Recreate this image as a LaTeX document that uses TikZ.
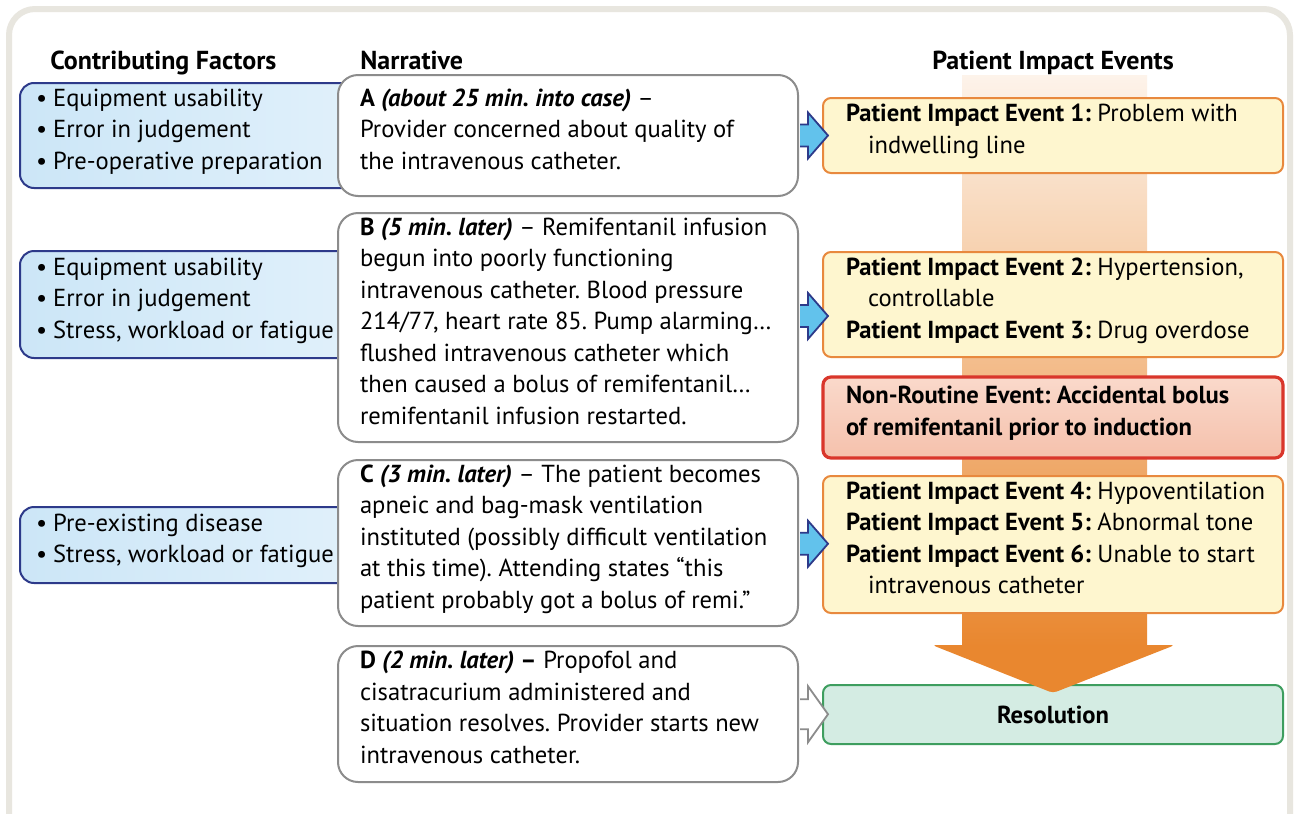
\documentclass[tikz,border=0pt]{standalone}
\usepackage{fontspec}
\setmainfont{PT Sans}
\usepackage{tikz}
\usetikzlibrary{calc, positioning}
\frenchspacing

\definecolor{frameGray}{HTML}{E8E6DF}
\definecolor{factorFill}{HTML}{CCE6F7}
\definecolor{factorLight}{HTML}{E2F1FB}
\definecolor{factorEdge}{HTML}{2D3A8A}
\definecolor{arrowBlue}{HTML}{62C2EC}
\definecolor{narrGray}{HTML}{8C8C8C}
\definecolor{impactFill}{HTML}{FEF6CF}
\definecolor{impactEdge}{HTML}{E8893E}
\definecolor{alertTop}{HTML}{FAD9CB}
\definecolor{alertBottom}{HTML}{F5C1AC}
\definecolor{alertEdge}{HTML}{D9362B}
\definecolor{resFill}{HTML}{D4ECE3}
\definecolor{resEdge}{HTML}{3E9E5F}
\definecolor{flowTop}{HTML}{FDF3EA}
\definecolor{flowBottom}{HTML}{E9872F}

\newcommand{\bodyfont}{\fontsize{12.3pt}{15.75pt}\selectfont}
\newcommand{\bul}{\textbullet\hspace{3pt}}

% fat block arrow between two boxes: style, from, to, shaft and head half height
\newcommand{\fatarrow}[5]{%
  \filldraw[#1] let \p1=(#2.east), \p2=(#3.west), \n1={(\y1+\y2)/2} in
    (\x1+0.5pt,\n1+#4) -- (\x2-7pt,\n1+#4) -- (\x2-7pt,\n1+#5) -- (\x2+3pt,\n1)
    -- (\x2-7pt,\n1-#5) -- (\x2-7pt,\n1-#4) -- (\x1+0.5pt,\n1-#4);
}

\begin{document}
\begin{tikzpicture}[x=0.5pt, y=-0.5pt, font=\bodyfont,
    box/.style={rectangle, align=left, inner ysep=0pt,
      execute at begin node={\hyphenpenalty=10000 \spaceskip=0pt \xspaceskip=0pt
        \rightskip=-15pt plus 1fil\rule{0pt}{11pt}},
      execute at end node={\rule[-9pt]{0pt}{0pt}}},
    factor/.style={box, draw=factorEdge, line width=1pt, rounded corners=7pt,
      left color=factorFill, right color=factorLight, text width=164pt, inner xsep=8pt},
    narr/.style={box, draw=narrGray, line width=1pt, rounded corners=10pt,
      fill=white, text width=208pt, inner xsep=11pt},
    impact/.style={box, draw=impactEdge, line width=1pt, rounded corners=4pt,
      fill=impactFill, text width=207pt, inner xsep=11.5pt},
    resbox/.style={rectangle, draw=resEdge, line width=1pt, rounded corners=4pt,
      fill=resFill, minimum width=230pt, font=\bodyfont\bfseries},
    heading/.style={font=\fontsize{13pt}{15.75pt}\selectfont\bfseries,
      inner sep=0pt, anchor=base west}]

  \useasboundingbox (0,0) rectangle (1296,814);
  \fill[white] (0,0) rectangle (1296,814);
  \draw[frameGray, line width=3pt, rounded corners=13pt] (9,9) rectangle (1290,870);

  % column headings
  \node[heading] (hdFactors) at (50,69) {Contributing Factors};
  \node[heading] (hdNarr) at (360,69) {Narrative};
  \node[heading, anchor=base] (hdImpact) at (1053,69) {Patient Impact Events};

  % contributing factors, partly hidden behind the narrative
  \node[factor, minimum height=52.5pt] (factA) at (200,135.5)
    {\bul Equipment usability\\\bul Error in judgement\\\bul Pre-operative preparation};
  \node[factor, minimum height=53.5pt] (factB) at (200,304.5)
    {\bul Equipment usability\\\bul Error in judgement\\\bul Stress, workload or fatigue};
  \node[factor, minimum height=38pt] (factC) at (200,545)
    {\bul Pre-existing disease\\\bul Stress, workload or fatigue};

  % narrative
  \node[narr, minimum height=60.5pt] (narA) at (568,135.5)
    {\textbf{A \textit{(about 25 min. into case)}} –\\
     Provider concerned about quality of\\the intravenous catheter.};
  \node[narr, minimum height=114.5pt] (narB) at (568,327.5)
    {\textbf{B \textit{(5 min. later)}} – Remifentanil infusion\\
     begun into poorly functioning\\
     intravenous catheter. Blood pressure\\
     214/77, heart rate 85. Pump alarming…\\
     flushed intravenous catheter which\\
     then caused a bolus of remifentanil…\\
     remifentanil infusion restarted.};
  \node[narr, minimum height=83pt] (narC) at (568,543)
    {\textbf{C \textit{(3 min. later)}} – The patient becomes\\
     apneic and bag-mask ventilation\\
     instituted (possibly difficult ventilation\\
     at this time). Attending states “this\\
     patient probably got a bolus of remi.”};
  \node[narr, minimum height=68pt] (narD) at (568,714)
    {\textbf{D \textit{(2 min. later)} –} Propofol and\\
     cisatracurium administered and\\
     situation resolves. Provider starts new\\
     intravenous catheter.};

  % big flow arrow behind the impact events
  \shade[top color=flowTop, bottom color=flowBottom] (962,75) rectangle (1147,646);

  % patient impact events
  \node[impact, minimum height=37.5pt] (impA) at (1053,135.5)
    {\textbf{Patient Impact Event 1:} Problem with\\\hspace*{11pt}indwelling line};
  \node[impact, minimum height=52.5pt] (impB) at (1053,304.5)
    {\textbf{Patient Impact Event 2:} Hypertension,\\\hspace*{11pt}controllable\\
     \textbf{Patient Impact Event 3:} Drug overdose};
  \node[impact, draw=alertEdge, line width=1.6pt, top color=alertTop,
    bottom color=alertBottom, font=\bodyfont\bfseries, minimum height=40.5pt]
    (nonroutine) at (1053,417.5)
    {Non-Routine Event: Accidental bolus\\of remifentanil prior to induction};
  \node[impact, minimum height=68.5pt] (impC) at (1053,544.5)
    {\textbf{Patient Impact Event 4:} Hypoventilation\\
     \textbf{Patient Impact Event 5:} Abnormal tone\\
     \textbf{Patient Impact Event 6:} Unable to start\\
     \hspace*{11pt}intravenous catheter};
  \node[resbox, minimum height=29.5pt] (resolution) at (1053,714.5) {Resolution};

  % head of the flow arrow
  \fill[flowBottom, rounded corners=2pt] (932,645) -- (1175,645) -- (1053,693) -- cycle;

  % narrative to events
  \fatarrow{fill=arrowBlue, draw=factorEdge, line width=0.9pt}{narA}{impA}{5.5pt}{11.5pt}
  \fatarrow{fill=arrowBlue, draw=factorEdge, line width=0.9pt}{narB}{impB}{5.5pt}{11.5pt}
  \fatarrow{fill=arrowBlue, draw=factorEdge, line width=0.9pt}{narC}{impC}{5.5pt}{11.5pt}
  \fatarrow{fill=white, draw=narrGray, line width=0.9pt}{narD}{resolution}{7.5pt}{14pt}
\end{tikzpicture}
\end{document}
